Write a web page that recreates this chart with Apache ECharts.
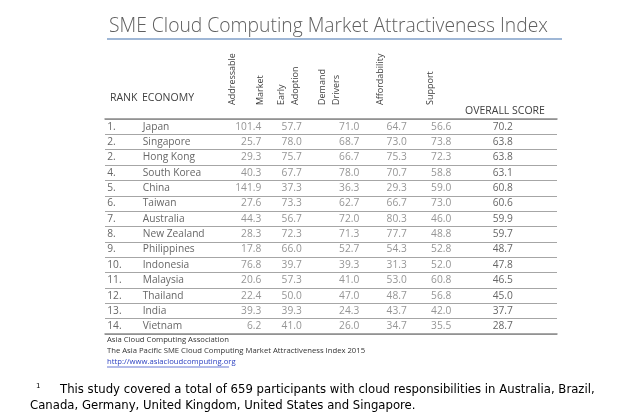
<!DOCTYPE html>
<html>
<head>
<meta charset="utf-8">
<script src="https://cdn.jsdelivr.net/npm/echarts@6/dist/echarts.min.js"></script>
<style>
  html, body { margin: 0; padding: 0; background: #fff; }
  #main { width: 640px; height: 413px; }
</style>
</head>
<body>
<div id="main"></div>
<script>
// table data
var columns = ['Rank', 'Economy', 'Addressable Market', 'Early Adoption', 'Demand Drivers', 'Affordability', 'Support', 'Overall Score'];
var ranks = ['1.', '2.', '2.', '4.', '5.', '6.', '7.', '8.', '9.', '10.', '11.', '12.', '13.', '14.'];
var economies = ['Japan', 'Singapore', 'Hong Kong', 'South Korea', 'China', 'Taiwan', 'Australia',
  'New Zealand', 'Philippines', 'Indonesia', 'Malaysia', 'Thailand', 'India', 'Vietnam'];
var addressableMarket = [101.4, 25.7, 29.3, 40.3, 141.9, 27.6, 44.3, 28.3, 17.8, 76.8, 20.6, 22.4, 39.3, 6.2];
var earlyAdoption = [57.7, 78.0, 75.7, 67.7, 37.3, 73.3, 56.7, 72.3, 66.0, 39.7, 57.3, 50.0, 39.3, 41.0];
var demandDrivers = [71.0, 68.7, 66.7, 78.0, 36.3, 62.7, 72.0, 71.3, 52.7, 39.3, 41.0, 47.0, 24.3, 26.0];
var affordability = [64.7, 73.0, 75.3, 70.7, 29.3, 66.7, 80.3, 77.7, 54.3, 31.3, 53.0, 48.7, 43.7, 34.7];
var support = [56.6, 73.8, 72.3, 58.8, 59.0, 73.0, 46.0, 48.8, 52.8, 52.0, 60.8, 56.8, 42.0, 35.5];
var overallScore = [70.2, 63.8, 63.8, 63.1, 60.8, 60.6, 59.9, 59.7, 48.7, 47.8, 46.5, 45.0, 37.7, 28.7];

var FONT = '"Open Sans", "Noto Sans", sans-serif';
var NOTE_FONT = '"DejaVu Sans", Verdana, sans-serif';
var chart = echarts.init(document.getElementById('main'));

// one text column of the table
function column(col, texts, align, dx, color) {
  return {
    type: 'scatter',
    symbolSize: 0,
    silent: true,
    data: economies.map(function (e) { return [col, e]; }),
    label: {
      show: true,
      position: 'inside',
      align: align,
      verticalAlign: 'middle',
      offset: [dx, 0],
      fontFamily: FONT,
      fontSize: 10.2,
      color: color,
      formatter: function (p) { return texts[p.dataIndex]; }
    },
    emphasis: { disabled: true }
  };
}
function fmt(arr) { return arr.map(function (v) { return v.toFixed(1); }); }

function header(text, x, y) {
  return {
    type: 'text', x: x, y: y, rotation: Math.PI / 2, silent: true,
    style: { text: text, fill: '#404040', font: '9px ' + FONT, textAlign: 'left', textVerticalAlign: 'middle' }
  };
}
function plain(text, x, y, font, fill) {
  return {
    type: 'text', x: x, y: y, silent: true,
    style: { text: text, fill: fill, font: font, textAlign: 'left', textVerticalAlign: 'middle' }
  };
}

var rule = { show: true, lineStyle: { color: '#8c8c8c', width: 1.5 } };

chart.setOption({
  animation: false,
  title: {
    text: 'SME Cloud Computing Market Attractiveness Index',
    left: 104, top: 12,
    textStyle: { fontFamily: FONT, fontWeight: 300, fontSize: 19.3, color: '#5f5f5f' }
  },
  grid: { left: 105, right: 83, top: 119, height: 215 },
  xAxis: [
    { type: 'category', data: columns, position: 'top', axisLine: rule,
      axisTick: { show: false }, axisLabel: { show: false } },
    { type: 'category', data: columns, position: 'bottom', axisLine: rule,
      axisTick: { show: false }, axisLabel: { show: false } }
  ],
  yAxis: {
    type: 'category', data: economies, inverse: true,
    axisLine: { show: false }, axisTick: { show: false }, axisLabel: { show: false },
    splitLine: { show: true, interval: 0, lineStyle: { color: '#a6a6a6', width: 1 } }
  },
  series: [
    column('Rank', ranks, 'left', -26, '#404040'),
    column('Economy', economies, 'left', -47, '#404040'),
    column('Addressable Market', fmt(addressableMarket), 'right', 15, '#7a7a7a'),
    column('Early Adoption', fmt(earlyAdoption), 'right', -1, '#7a7a7a'),
    column('Demand Drivers', fmt(demandDrivers), 'right', 0, '#7a7a7a'),
    column('Affordability', fmt(affordability), 'right', -9, '#7a7a7a'),
    column('Support', fmt(support), 'right', -21, '#7a7a7a'),
    column('Overall Score', fmt(overallScore), 'center', -26, '#404040')
  ],
  graphic: [
    { type: 'line', silent: true, shape: { x1: 107, y1: 39, x2: 562, y2: 39 },
      style: { stroke: '#7f9fc8', lineWidth: 1.5 } },
    plain('RANK', 110, 98, '10.5px ' + FONT, '#404040'),
    plain('ECONOMY', 142, 98, '10.5px ' + FONT, '#404040'),
    plain('OVERALL SCORE', 465, 111, '10.5px ' + FONT, '#404040'),
    header('Addressable', 232, 105),
    header('Market', 260, 105),
    header('Early', 281, 105),
    header('Adoption', 295, 105),
    header('Demand', 322, 105),
    header('Drivers', 336, 105),
    header('Affordability', 380, 105),
    header('Support', 430, 105),
    plain('Asia Cloud Computing Association', 107, 340, '7.7px ' + FONT, '#333'),
    plain('The Asia Pacific SME Cloud Computing Market Attractiveness Index 2015', 107, 351, '7.7px ' + FONT, '#333'),
    plain('http://www.asiacloudcomputing.org', 107, 362, '7.7px ' + FONT, '#2a3fc0'),
    { type: 'line', silent: true, shape: { x1: 107, y1: 367, x2: 229, y2: 367 },
      style: { stroke: '#2a3fc0', lineWidth: 0.7 } },
    plain('1', 36, 386, '7px ' + NOTE_FONT, '#000'),
    plain('This study covered a total of 659 participants with cloud responsibilities in Australia, Brazil,',
      60, 390, '11.7px ' + NOTE_FONT, '#000'),
    plain('Canada, Germany, United Kingdom, United States and Singapore.',
      30, 406, '11.7px ' + NOTE_FONT, '#000')
  ]
});
</script>
</body>
</html>
